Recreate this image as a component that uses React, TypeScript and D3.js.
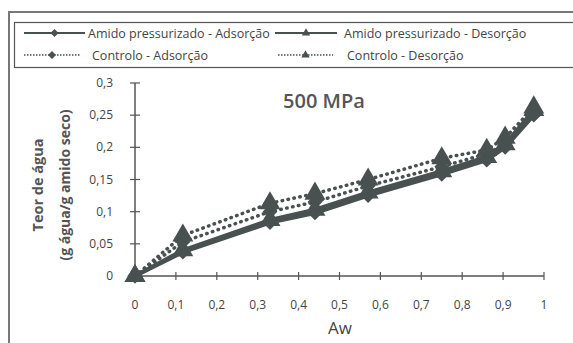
import * as d3 from 'd3';

const aw = [0, 0.117, 0.33, 0.44, 0.57, 0.75, 0.86, 0.905, 0.975];
const pressAds = [0, 0.037, 0.083, 0.098, 0.125, 0.158, 0.18, 0.2, 0.25];
const pressDes = [0, 0.04, 0.087, 0.103, 0.13, 0.163, 0.185, 0.205, 0.258];
const ctrlAds = [0, 0.053, 0.1, 0.115, 0.14, 0.17, 0.19, 0.205, 0.258];
const ctrlDes = [0, 0.063, 0.113, 0.128, 0.15, 0.183, 0.196, 0.215, 0.262];

const xTicks = [0, 0.1, 0.2, 0.3, 0.4, 0.5, 0.6, 0.7, 0.8, 0.9, 1];
const yTicks = [0, 0.05, 0.1, 0.15, 0.2, 0.25, 0.3];

const seriesNames = [
  'Amido pressurizado - Adsorção',
  'Amido pressurizado - Desorção',
  'Controlo - Adsorção',
  'Controlo - Desorção',
];

const W = 573;
const H = 343;
const ink = '#495150';
const textCol = '#444';
const font = "'Open Sans', sans-serif";

const fmt = (v: number) => String(v).replace('.', ',');

export default function App() {
  const x = d3.scaleLinear().domain([0, 1]).range([135, 544]);
  const y = d3.scaleLinear().domain([0, 0.3]).range([276, 83]);

  const series = [
    { name: seriesNames[0], values: pressAds, dotted: false, shape: d3.symbolDiamond2 },
    { name: seriesNames[1], values: pressDes, dotted: false, shape: d3.symbolTriangle },
    { name: seriesNames[2], values: ctrlAds, dotted: true, shape: d3.symbolDiamond2 },
    { name: seriesNames[3], values: ctrlDes, dotted: true, shape: d3.symbolTriangle },
  ];

  const line = d3
    .line<[number, number]>()
    .x((d) => x(d[0]))
    .y((d) => y(d[1]));

  const sym = (shape: d3.SymbolType, size: number) => d3.symbol().type(shape).size(size)()!;

  // legend layout: two columns, two rows
  const legendPos = [
    { lx: 24, len: 61, ly: 33, tx: 88 },
    { lx: 275, len: 62, ly: 33, tx: 344 },
    { lx: 24, len: 56, ly: 55, tx: 92 },
    { lx: 278, len: 55, ly: 55, tx: 347 },
  ];

  return (
    <svg
      width={W}
      height={H}
      style={{ position: 'fixed', left: 0, top: 0, background: '#fff' }}
      fontFamily={font}
    >
      {/* outer frame */}
      <rect x={9} y={12} width={W} height={H} fill="none" stroke="#777" strokeWidth={2} />
      {/* legend box */}
      <rect x={14.5} y={22.5} width={W} height={45} fill="none" stroke="#555" strokeWidth={1.2} />
      {series.map((s, i) => {
        const p = legendPos[i];
        return (
          <g key={s.name}>
            <line
              x1={p.lx}
              x2={p.lx + p.len}
              y1={p.ly}
              y2={p.ly}
              stroke={ink}
              strokeWidth={s.dotted ? 1.6 : 1.8}
              strokeDasharray={s.dotted ? '1.5,1.5' : undefined}
            />
            <path
              d={sym(s.shape, s.shape === d3.symbolTriangle ? 30 : 40)}
              transform={`translate(${p.lx + p.len / 2},${p.ly})`}
              fill={ink}
            />
            <text x={p.tx} y={p.ly + 4.5} fontSize={12.5} fill={textCol}>
              {s.name}
            </text>
          </g>
        );
      })}

      {/* title */}
      <text x={324} y={108} fontSize={20} fontWeight={600} fill="#555" textAnchor="middle">
        500 MPa
      </text>

      {/* axes */}
      <line x1={x(0)} x2={x(0)} y1={y(0)} y2={y(0.3)} stroke="#555" strokeWidth={1.5} />
      <line x1={x(0)} x2={x(1)} y1={y(0)} y2={y(0)} stroke="#555" strokeWidth={1.5} />
      {yTicks.map((t) => (
        <g key={`y${t}`}>
          <line x1={x(0) - 5} x2={x(0) + 5} y1={y(t)} y2={y(t)} stroke="#555" strokeWidth={1.2} />
          <text x={113} y={y(t) + 4} fontSize={12} fill={textCol} textAnchor="end">
            {fmt(t)}
          </text>
        </g>
      ))}
      {xTicks.map((t) => (
        <g key={`x${t}`}>
          {t > 0 && (
            <line x1={x(t)} x2={x(t)} y1={y(0) - 4} y2={y(0) + 4} stroke="#555" strokeWidth={1.2} />
          )}
          <text x={x(t)} y={309} fontSize={12} fill={textCol} textAnchor="middle">
            {fmt(t)}
          </text>
        </g>
      ))}

      {/* axis titles */}
      <text x={340} y={334} fontSize={17} fill={textCol} textAnchor="middle">
        Aw
      </text>
      <g transform="translate(43,185) rotate(-90)">
        <text x={0} y={0} fontSize={14.5} fontWeight="bold" fill="#555" textAnchor="middle">
          Teor de água
        </text>
        <text x={0} y={27} fontSize={14} fontWeight="bold" fill="#555" textAnchor="middle">
          (g água/g amido seco)
        </text>
      </g>

      {/* series lines */}
      {series.map((s) => (
        <path
          key={`l-${s.name}`}
          d={line(aw.map((a, i) => [a, s.values[i]] as [number, number]))!}
          fill="none"
          stroke={ink}
          strokeWidth={s.dotted ? 3.5 : 4}
          strokeDasharray={s.dotted ? '0.5,5.5' : undefined}
          strokeLinecap={s.dotted ? 'round' : 'butt'}
        />
      ))}
      {/* markers */}
      {series.map((s) =>
        aw.map((a, i) => (
          <path
            key={`m-${s.name}-${i}`}
            d={sym(s.shape, s.shape === d3.symbolTriangle ? 190 : 140)}
            transform={`translate(${x(a)},${y(s.values[i])})`}
            fill={ink}
          />
        )),
      )}
    </svg>
  );
}
